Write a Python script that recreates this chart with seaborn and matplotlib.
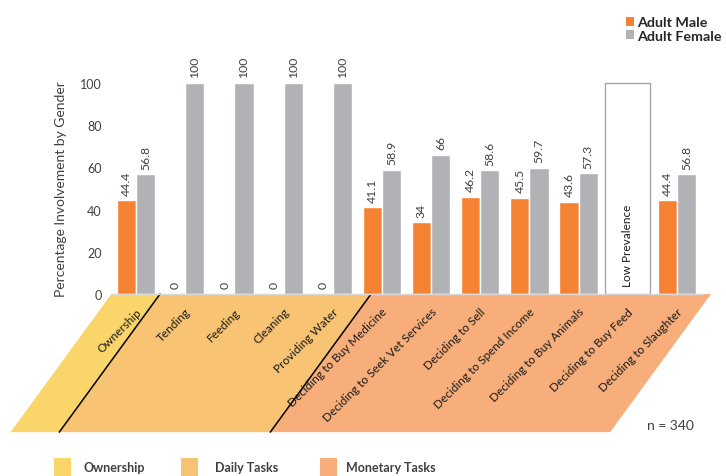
import numpy as np
import pandas as pd
import seaborn as sns
import matplotlib.pyplot as plt
import matplotlib.transforms as mtransforms
from matplotlib.patches import Polygon, Rectangle, Patch

# ---- data ----
categories = ["Ownership", "Tending", "Feeding", "Cleaning", "Providing Water",
              "Deciding to Buy Medicine", "Deciding to Seek Vet Services",
              "Deciding to Sell", "Deciding to Spend Income",
              "Deciding to Buy Animals", "Deciding to Buy Feed",
              "Deciding to Slaughter"]
male = [44.4, 0, 0, 0, 0, 41.1, 34, 46.2, 45.5, 43.6, np.nan, 44.4]
female = [56.8, 100, 100, 100, 100, 58.9, 66, 58.6, 59.7, 57.3, np.nan, 56.8]
genders = ["Adult Male", "Adult Female"]
task_groups = ["Ownership", "Daily Tasks", "Monetary Tasks"]
low_prevalence = "Deciding to Buy Feed"
sample_note = "n = 340"

df = pd.DataFrame({
    "Task": categories * 2,
    "Gender": [genders[0]] * len(categories) + [genders[1]] * len(categories),
    "Value": male + female,
})

# ---- style ----
sns.set_style("white")
plt.rcParams["font.family"] = ["Lato", "DejaVu Sans"]
TXT = "#404040"
bar_colors = ["#F58233", "#B1B2B6"]
band_colors = ["#FAD56A", "#F8C372", "#F7AE7B"]

W, H = 726, 477
fig = plt.figure(figsize=(W / 100, H / 100), dpi=100)
ax = fig.add_axes([0.1534, 0.3816, 0.813, 0.4423])

sns.barplot(data=df, x="Task", y="Value", hue="Gender", order=categories,
            hue_order=genders, palette=bar_colors, saturation=1, width=0.78,
            edgecolor="white", linewidth=1, legend=False, ax=ax, zorder=2)

for cont in ax.containers:
    labels = ["" if np.isnan(v) else f"{v:g}" for v in cont.datavalues]
    ax.bar_label(cont, labels=labels, rotation=90, padding=4, fontsize=8.8,
                 color=TXT, clip_on=False)

ax.set_xlim(-0.5, len(categories) - 0.5)
ax.set_ylim(0, 100)
ax.set_yticks(range(0, 101, 20))
ax.tick_params(axis="both", length=0)
ax.tick_params(axis="y", pad=7, labelsize=9, labelcolor=TXT)
ax.set_ylabel("Percentage Involvement by Gender", fontsize=10, color=TXT, labelpad=9)
ax.set_xlabel("")
ax.set_xticks(range(len(categories)))
ax.set_xticklabels(categories, rotation=45, ha="right", va="center",
                   rotation_mode="anchor", fontsize=8.5, color="#1a1a1a")
ax.tick_params(axis="x", pad=8)
shift = mtransforms.ScaledTranslation(0.035, -0.045, fig.dpi_scale_trans)
for lab in ax.get_xticklabels():
    lab.set_transform(lab.get_transform() + shift)
for s in ["top", "right", "left"]:
    ax.spines[s].set_visible(False)
ax.spines["bottom"].set_color("#D9D9D9")
ax.spines["bottom"].set_linewidth(1)
ax.spines["bottom"].set_zorder(3)

# "Low Prevalence" placeholder column
lp = categories.index(low_prevalence)
ax.add_patch(Rectangle((lp - 0.46, 0), 0.92, 100, facecolor="white",
                       edgecolor="#A6A6A6", linewidth=1, zorder=2, clip_on=False))
ax.text(lp, 4, "Low Prevalence", rotation=90, ha="center", va="bottom",
        fontsize=8.5, color="#1a1a1a", zorder=3)

# slanted bands grouping the tasks beneath the axis
depth, slant = 65.5, 2.05
edges = [-0.5, 0.49, 4.78, 11.69]
for i, col in enumerate(band_colors):
    x0, x1 = edges[i], edges[i + 1]
    ax.add_patch(Polygon([(x0, 0), (x1, 0), (x1 - slant, -depth), (x0 - slant, -depth)],
                         closed=True, facecolor=col, edgecolor="none",
                         zorder=0.5, clip_on=False))
for x in edges[1:3]:
    ax.plot([x, x - slant], [0, -depth], color="black", lw=1.1,
            zorder=0.6, clip_on=False)

ax.text(10.86, -62, sample_note, ha="center", va="center", fontsize=10,
        color=TXT, clip_on=False)

# gender legend (top right)
g_handles = [Patch(facecolor=c, edgecolor="none") for c in bar_colors]
fig.legend(g_handles, genders, loc="center", bbox_to_anchor=(0.928, 0.937),
           frameon=False, handlelength=0.55, handleheight=0.55, handletextpad=0.25,
           labelspacing=0.1, prop={"weight": "bold", "size": 10.3},
           labelcolor="#262626")

# task-group legend (bottom), laid out in pixel positions
sq_x = [54, 181, 320]
txt_x = [84, 215, 346]
for sx, tx, col, name in zip(sq_x, txt_x, band_colors, task_groups):
    fig.patches.append(Rectangle((sx / W, 0), 17 / W, 18 / H, facecolor=col,
                                 edgecolor="none", transform=fig.transFigure,
                                 figure=fig))
    fig.text(tx / W, 1 - 468 / H, name, ha="left", va="center", fontsize=9,
             fontweight="bold", color=TXT)

fig.savefig("out.png", dpi=100)
